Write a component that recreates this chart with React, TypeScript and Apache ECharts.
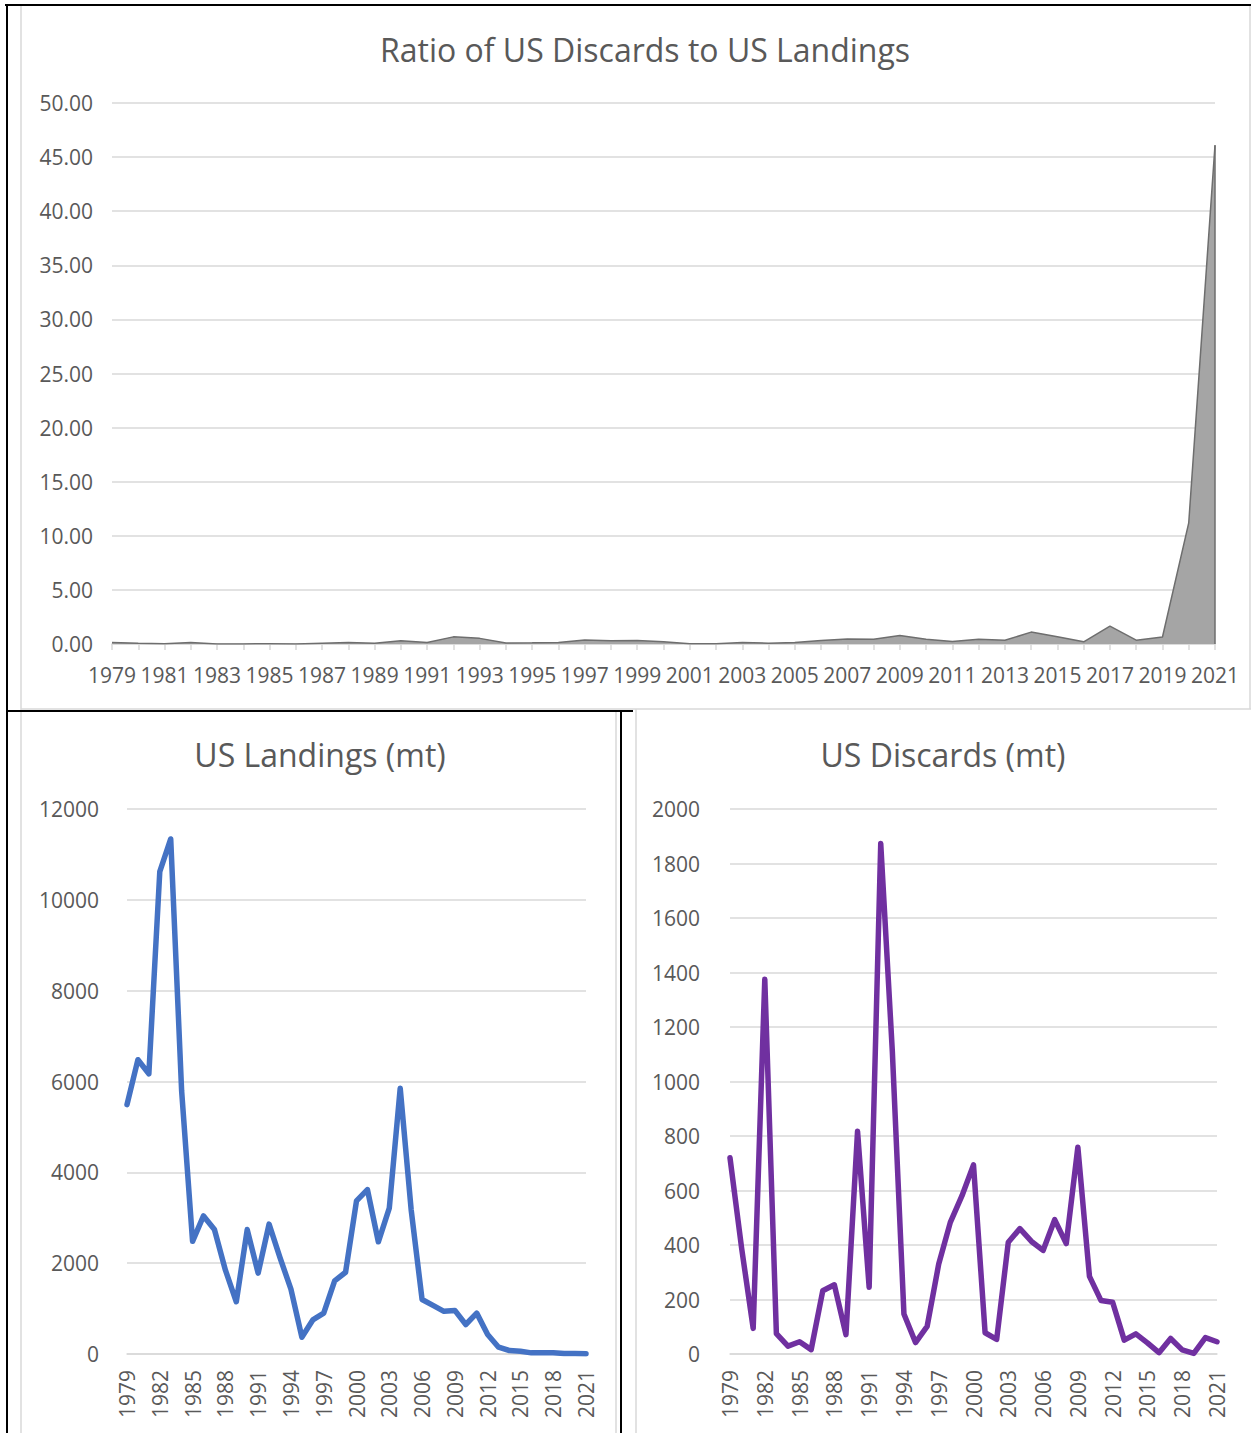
import React, { useEffect, useRef } from 'react';
import * as echarts from 'echarts';

const years = [
  '1979', '1980', '1981', '1982', '1983', '1984', '1985', '1986', '1987', '1988',
  '1989', '1990', '1991', '1992', '1993', '1994', '1995', '1996', '1997', '1998',
  '1999', '2000', '2001', '2002', '2003', '2004', '2005', '2006', '2007', '2008',
  '2009', '2010', '2011', '2012', '2013', '2014', '2015', '2016', '2017', '2018',
  '2019', '2020', '2021',
];

const ratio = [
  0.13, 0.06, 0.02, 0.13, 0.01, 0.01, 0.02, 0.01, 0.08, 0.14,
  0.06, 0.3, 0.14, 0.66, 0.52, 0.1, 0.11, 0.14, 0.37, 0.3,
  0.32, 0.21, 0.02, 0.02, 0.13, 0.08, 0.13, 0.32, 0.46, 0.43,
  0.79, 0.44, 0.22, 0.44, 0.34, 1.1, 0.68, 0.2, 1.65, 0.35,
  0.65, 11.2, 46.1,
];

const landings = [
  5490, 6480, 6170, 10620, 11340, 5790, 2480, 3040, 2740, 1850,
  1150, 2740, 1780, 2860, 2120, 1430, 370, 750, 900, 1610,
  1800, 3370, 3620, 2470, 3210, 5850, 3180, 1200, 1070, 940,
  960, 650, 900, 430, 150, 75, 60, 25, 30, 30,
  10, 10, 8,
];

const discards = [
  720, 389, 94, 1375, 75, 29, 45, 16, 232, 254,
  71, 817, 245, 1873, 1110, 147, 42, 101, 330, 483,
  580, 694, 78, 54, 410, 460, 413, 380, 493, 405,
  759, 285, 196, 190, 51, 74, 41, 5, 57, 15,
  2, 60, 45,
];

const titles = ['Ratio of US Discards to US Landings', 'US Landings (mt)', 'US Discards (mt)'];

const FONT = 'Open Sans';
const TEXT = '#595959';
const GRID = '#d9d9d9';

export default function App() {
  const ref = useRef<HTMLDivElement>(null);

  useEffect(() => {
    if (!ref.current) return;
    const chart = echarts.init(ref.current, undefined, { renderer: 'svg' });

    const label = { color: TEXT, fontSize: 21, fontFamily: FONT };
    const split = { show: true, lineStyle: { color: GRID, width: 1.5 } };

    const bottomX = (gridIndex: number) => ({
      gridIndex,
      type: 'category',
      data: years,
      boundaryGap: false,
      axisLine: { show: true, lineStyle: { color: GRID, width: 1.5 } },
      axisTick: { show: false },
      axisLabel: { ...label, interval: 2, rotate: 90, margin: 16 },
      splitLine: { show: false },
    });

    const option: any = {
      animation: false,
      backgroundColor: '#ffffff',
      grid: [
        { left: 112, right: 36, top: 103, bottom: 789 },
        { left: 127, right: 665, top: 809, bottom: 79 },
        { left: 730, right: 34, top: 809, bottom: 79 },
      ],
      xAxis: [
        {
          gridIndex: 0,
          type: 'category',
          data: years,
          boundaryGap: false,
          axisLine: { show: true, lineStyle: { color: GRID, width: 1.5 } },
          axisTick: { show: true, interval: 0, length: 6, lineStyle: { color: GRID, width: 1.5 } },
          axisLabel: { ...label, interval: 1, margin: 20 },
          splitLine: { show: false },
        },
        bottomX(1),
        bottomX(2),
      ],
      yAxis: [
        {
          gridIndex: 0,
          type: 'value',
          min: 0,
          max: 50,
          interval: 5,
          axisLine: { show: false },
          axisTick: { show: false },
          axisLabel: { ...label, margin: 19, formatter: (v: number) => v.toFixed(2) },
          splitLine: split,
        },
        {
          gridIndex: 1,
          type: 'value',
          min: 0,
          max: 12000,
          interval: 2000,
          axisLine: { show: false },
          axisTick: { show: false },
          axisLabel: { ...label, margin: 28, formatter: (v: number) => String(v) },
          splitLine: split,
        },
        {
          gridIndex: 2,
          type: 'value',
          min: 0,
          max: 2000,
          interval: 200,
          axisLine: { show: false },
          axisTick: { show: false },
          axisLabel: { ...label, margin: 30, formatter: (v: number) => String(v) },
          splitLine: split,
        },
      ],
      series: [
        {
          type: 'line',
          xAxisIndex: 0,
          yAxisIndex: 0,
          data: ratio,
          symbol: 'none',
          lineStyle: { color: '#6e6e6e', width: 1.5 },
          areaStyle: { color: '#a5a5a5', opacity: 1 },
          markLine: {
            silent: true,
            symbol: ['none', 'none'],
            label: { show: false },
            lineStyle: { color: '#6e6e6e', width: 1.5, type: 'solid' },
            data: [
              [
                { coord: [years[years.length - 1], 0] },
                { coord: [years[years.length - 1], ratio[ratio.length - 1]] },
              ],
            ],
          },
        },
        {
          type: 'line',
          xAxisIndex: 1,
          yAxisIndex: 1,
          data: landings,
          symbol: 'none',
          lineStyle: { color: '#4472c4', width: 5.5, cap: 'round', join: 'round' },
        },
        {
          type: 'line',
          xAxisIndex: 2,
          yAxisIndex: 2,
          data: discards,
          symbol: 'none',
          lineStyle: { color: '#7030a0', width: 5.5, cap: 'round', join: 'round' },
        },
      ],
      graphic: [
        // chart area borders (light gray)
        { type: 'line', shape: { x1: 21, y1: 5, x2: 21, y2: 1433 }, style: { stroke: GRID, lineWidth: 1.5 } },
        { type: 'line', shape: { x1: 1250, y1: 5, x2: 1250, y2: 709 }, style: { stroke: GRID, lineWidth: 1.5 } },
        { type: 'line', shape: { x1: 21, y1: 709, x2: 1251, y2: 709 }, style: { stroke: GRID, lineWidth: 1.5 } },
        { type: 'line', shape: { x1: 636, y1: 709, x2: 636, y2: 1433 }, style: { stroke: GRID, lineWidth: 1.5 } },
        { type: 'line', shape: { x1: 616, y1: 712, x2: 616, y2: 1433 }, style: { stroke: GRID, lineWidth: 1.5 } },
        // table borders (black)
        { type: 'line', shape: { x1: 5, y1: 5, x2: 1251, y2: 5 }, style: { stroke: '#000', lineWidth: 2 } },
        { type: 'line', shape: { x1: 7, y1: 4, x2: 7, y2: 1433 }, style: { stroke: '#000', lineWidth: 2 } },
        { type: 'line', shape: { x1: 6, y1: 711, x2: 633, y2: 711 }, style: { stroke: '#000', lineWidth: 2 } },
        { type: 'line', shape: { x1: 621, y1: 710, x2: 621, y2: 1433 }, style: { stroke: '#000', lineWidth: 2 } },
        // titles
        {
          type: 'text', x: 645, y: 49,
          style: { text: titles[0], fill: TEXT, font: `32px "${FONT}"`, textAlign: 'center', textVerticalAlign: 'middle' },
        },
        {
          type: 'text', x: 320, y: 754,
          style: { text: titles[1], fill: TEXT, font: `32px "${FONT}"`, textAlign: 'center', textVerticalAlign: 'middle' },
        },
        {
          type: 'text', x: 943, y: 754,
          style: { text: titles[2], fill: TEXT, font: `32px "${FONT}"`, textAlign: 'center', textVerticalAlign: 'middle' },
        },
      ],
    };

    chart.setOption(option);
    return () => chart.dispose();
  }, []);

  return (
    <div
      ref={ref}
      style={{ position: 'absolute', left: 0, top: 0, width: 1251, height: 1433, background: '#fff' }}
    />
  );
}
